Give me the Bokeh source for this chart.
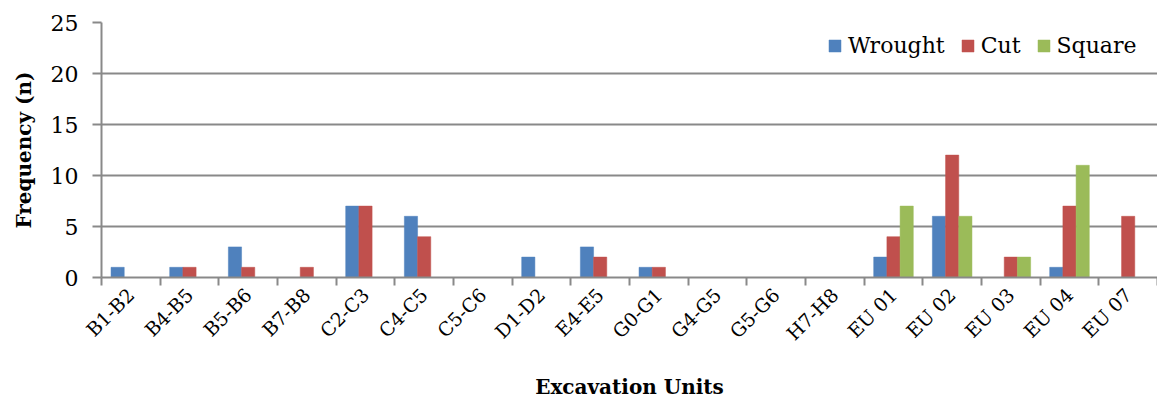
import math
from bokeh.plotting import figure
from bokeh.models import ColumnDataSource, Range1d, LinearAxis, FixedTicker
from bokeh.embed import file_html
from bokeh.resources import INLINE

categories = ["B1-B2", "B4-B5", "B5-B6", "B7-B8", "C2-C3", "C4-C5", "C5-C6", "D1-D2", "E4-E5",
              "G0-G1", "G4-G5", "G5-G6", "H7-H8", "EU 01", "EU 02", "EU 03", "EU 04", "EU 07"]
wrought = [1, 1, 3, 0, 7, 6, 0, 2, 3, 1, 0, 0, 0, 2, 6, 0, 1, 0]
cut     = [0, 1, 1, 1, 7, 4, 0, 0, 2, 1, 0, 0, 0, 4, 12, 2, 7, 6]
square  = [0, 0, 0, 0, 0, 0, 0, 0, 0, 0, 0, 0, 0, 7, 6, 2, 11, 0]
y_ticks = [0, 5, 10, 15, 20, 25]

BAR_W = 0.225
series = [("Wrought", wrought, "#4F81BD", -BAR_W),
          ("Cut", cut, "#C0504D", 0.0),
          ("Square", square, "#9BBB59", BAR_W)]

FONT = "DejaVu Serif"
GRID = "#898989"
n = len(categories)
centers = [i + 0.5 for i in range(n)]
bounds = list(range(n + 1))

p = figure(width=1157, height=403, x_range=Range1d(0, n),
           y_range=Range1d(0, 25), output_backend="svg", toolbar_location=None,
           x_axis_location=None, y_axis_location=None,
           min_border_left=101, min_border_right=0, min_border_top=22, min_border_bottom=126)
p.outline_line_color = None
p.background_fill_color = "white"
p.border_fill_color = "white"

for name, vals, color, off in series:
    src = ColumnDataSource(dict(x=[c + off for c in centers], top=vals))
    p.vbar(x="x", top="top", width=BAR_W, source=src,
           fill_color=color, line_color=color, line_width=0.5, legend_label=name)

# category axis: labels at centres, tick marks at category boundaries (minor ticks)
cax = LinearAxis(ticker=FixedTicker(ticks=centers, minor_ticks=bounds))
cax.major_label_overrides = {c: lab for c, lab in zip(centers, categories)}
cax.axis_line_color = GRID
cax.axis_line_width = 2
cax.major_tick_line_color = None
cax.major_tick_out = 0
cax.major_tick_in = 0
cax.minor_tick_line_color = GRID
cax.minor_tick_line_width = 2
cax.minor_tick_out = 8
cax.minor_tick_in = 0
cax.major_label_orientation = math.pi / 4
cax.major_label_standoff = 6
cax.major_label_text_font = FONT
cax.major_label_text_font_size = "19px"
cax.major_label_text_color = "black"
cax.axis_label = "Excavation Units"
cax.axis_label_text_font = FONT
cax.axis_label_text_font_style = "bold"
cax.axis_label_text_font_size = "20px"
cax.axis_label_text_color = "black"
cax.axis_label_standoff = 20
p.add_layout(cax, "below")

yax = LinearAxis(ticker=FixedTicker(ticks=y_ticks))
yax.axis_line_color = GRID
yax.axis_line_width = 2
yax.major_tick_line_color = GRID
yax.major_tick_line_width = 2
yax.major_tick_out = 9
yax.major_tick_in = 0
yax.minor_tick_line_color = None
yax.major_label_standoff = 14
yax.major_label_text_font = FONT
yax.major_label_text_font_size = "22px"
yax.major_label_text_color = "black"
yax.axis_label = "Frequency (n)"
yax.axis_label_text_font = FONT
yax.axis_label_text_font_style = "bold"
yax.axis_label_text_font_size = "20px"
yax.axis_label_text_color = "black"
yax.axis_label_standoff = 12
p.add_layout(yax, "left")

p.xgrid.grid_line_color = None
p.ygrid.ticker = FixedTicker(ticks=y_ticks)
p.ygrid.grid_line_color = GRID
p.ygrid.grid_line_width = 2

lg = p.legend[0]
lg.location = (726, 219)
lg.orientation = "horizontal"
lg.border_line_color = None
lg.background_fill_alpha = 0
lg.label_text_font = FONT
lg.label_text_font_size = "22px"
lg.label_text_color = "black"
lg.glyph_width = 15
lg.glyph_height = 15
lg.label_standoff = 6
lg.spacing = 15
lg.margin = 10
lg.padding = 8

open("out.html", "w").write(file_html(p, INLINE))
